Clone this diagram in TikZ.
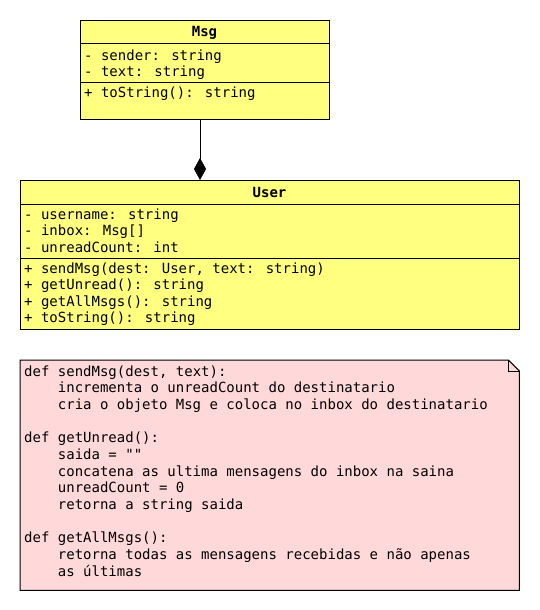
\documentclass[tikz,border=0pt]{standalone}
\usepackage{fontspec}
\newfontfamily\codefont{DejaVu Sans Mono}
\usetikzlibrary{calc,arrows.meta}

\definecolor{classfill}{HTML}{FFFF80}
\definecolor{notefill}{HTML}{FFD9D9}

\tikzset{
  classbox/.style={draw=black, line width=1pt, fill=classfill, rectangle,
                   inner sep=0pt, anchor=north west},
  codeline/.style={font=\codefont\fontsize{14}{16}\selectfont, inner sep=0pt,
                   anchor=base west},
  classname/.style={font=\codefont\bfseries\fontsize{14}{16}\selectfont,
                    inner sep=0pt, anchor=base},
  sepline/.style={line width=1pt},
  composition/.style={line width=1pt,
                      -{Diamond[length=22pt,width=12pt,line width=0.5pt]}},
}

\begin{document}
\begin{tikzpicture}[x=1pt, y=-1pt]
  \useasboundingbox (0,0) rectangle (540,610);

  % ---- class Msg ----
  \node[classbox, minimum width=249pt, minimum height=99pt] (msg) at (80,20) {};
  \draw[sepline] ($(msg.north west)+(0,24)$) -- ($(msg.north east)+(0,24)$);
  \draw[sepline] ($(msg.north west)+(0,62)$) -- ($(msg.north east)+(0,62)$);
  \node[classname] (msgname) at (204.5,37) {Msg};
  \node[codeline] (msga1) at (84,60) {- sender: string};
  \node[codeline] (msga2) at (84,76.3) {- text: string};
  \node[codeline] (msgm1) at (84,97) {+ toString(): string};

  % ---- class User ----
  \node[classbox, minimum width=499pt, minimum height=149pt] (user) at (20,180) {};
  \draw[sepline] ($(user.north west)+(0,24)$) -- ($(user.north east)+(0,24)$);
  \draw[sepline] ($(user.north west)+(0,78)$) -- ($(user.north east)+(0,78)$);
  \node[classname] (username) at (269.5,197) {User};
  \node[codeline] (usera1) at (24,219.5) {- username: string};
  \node[codeline] (usera2) at (24,235.8) {- inbox: Msg[]};
  \node[codeline] (usera3) at (24,252.1) {- unreadCount: int};
  \node[codeline] (userm1) at (24,273.5) {+ sendMsg(dest: User, text: string)};
  \node[codeline] (userm2) at (24,289.8) {+ getUnread(): string};
  \node[codeline] (userm3) at (24,306.1) {+ getAllMsgs(): string};
  \node[codeline] (userm4) at (24,322.4) {+ toString(): string};

  % ---- composition: User owns Msg ----
  \coordinate (msgjoin) at (200,119);
  \coordinate (userjoin) at (200,180);
  \draw[composition] (msgjoin) -- (userjoin);

  % ---- note with folded corner ----
  \node[inner sep=0pt, minimum width=499pt, minimum height=230pt,
        anchor=north west] (note) at (20,360) {};
  \filldraw[fill=notefill, draw=black, line width=1pt]
    (note.north west) -- ($(note.north east)+(-11,0)$)
    -- ($(note.north east)+(0,11)$) -- (note.south east)
    -- (note.south west) -- cycle;
  \draw[line width=1pt] ($(note.north east)+(-11,0)$)
    -- ($(note.north east)+(-11,11)$) -- ($(note.north east)+(0,11)$);

  \def\ind{57.7}
  \node[codeline] (n1)  at (24,376)     {def sendMsg(dest, text):};
  \node[codeline] (n2)  at (\ind,392.7) {incrementa o unreadCount do destinatario};
  \node[codeline] (n3)  at (\ind,409.3) {cria o objeto Msg e coloca no inbox do destinatario};
  \node[codeline] (n4)  at (24,442.7)   {def getUnread():};
  \node[codeline] (n5)  at (\ind,459.3) {saida = ""};
  \node[codeline] (n6)  at (\ind,476)   {concatena as ultima mensagens do inbox na saina};
  \node[codeline] (n7)  at (\ind,492.7) {unreadCount = 0};
  \node[codeline] (n8)  at (\ind,509.3) {retorna a string saida};
  \node[codeline] (n9)  at (24,542.7)   {def getAllMsgs():};
  \node[codeline] (n10) at (\ind,559.3) {retorna todas as mensagens recebidas e não apenas};
  \node[codeline] (n11) at (\ind,576)   {as últimas};
\end{tikzpicture}
\end{document}
